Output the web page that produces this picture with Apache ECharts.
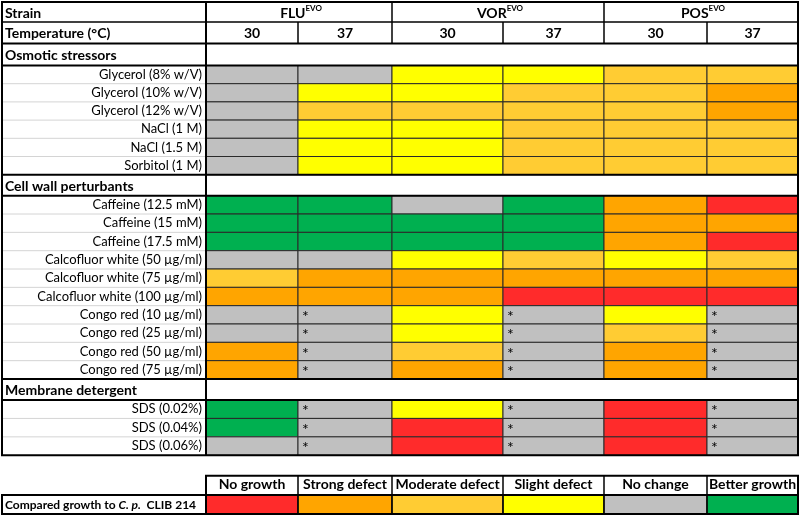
<!DOCTYPE html>
<html>
<head>
<meta charset="utf-8">
<script src="https://cdn.jsdelivr.net/npm/echarts@6/dist/echarts.min.js"></script>
<style>html,body{margin:0;padding:0;background:#fff}#main{width:800px;height:516px}</style>
</head>
<body>
<div id="main"></div>
<script>
// ---------- DATA ----------
const strains = ['FLU', 'VOR', 'POS'];
const strainSuffix = 'EVO';
const temperatures = ['30', '37', '30', '37', '30', '37'];
const growthCategories = ['No growth', 'Strong defect', 'Moderate defect', 'Slight defect', 'No change', 'Better growth'];
const growthColors = ['#FF2B2B', '#FFA500', '#FFCC33', '#FFFF00', '#C0C0C0', '#00B050'];
const sectionNames = ['Osmotic stressors', 'Cell wall perturbants', 'Membrane detergent'];

const osmoticLabels = ['Glycerol (8% w/V)', 'Glycerol (10% w/V)', 'Glycerol (12% w/V)', 'NaCl (1 M)', 'NaCl (1.5 M)', 'Sorbitol (1 M)'];
const osmoticValues = [
  [4, 4, 3, 3, 2, 2],
  [4, 3, 3, 2, 2, 1],
  [4, 2, 2, 2, 2, 1],
  [4, 3, 3, 2, 2, 2],
  [4, 3, 3, 2, 2, 2],
  [4, 3, 3, 2, 2, 2]
];
const osmoticStars = [];

const cellWallLabels = ['Caffeine (12.5 mM)', 'Caffeine (15 mM)', 'Caffeine (17.5 mM)', 'Calcofluor white (50 µg/ml)', 'Calcofluor white (75 µg/ml)', 'Calcofluor white (100 µg/ml)', 'Congo red (10 µg/ml)', 'Congo red (25 µg/ml)', 'Congo red (50 µg/ml)', 'Congo red (75 µg/ml)'];
const cellWallValues = [
  [5, 5, 4, 5, 1, 0],
  [5, 5, 5, 5, 1, 1],
  [5, 5, 5, 5, 1, 0],
  [4, 4, 3, 2, 3, 2],
  [2, 1, 1, 1, 1, 1],
  [1, 1, 1, 0, 0, 0],
  [4, 4, 3, 4, 3, 4],
  [4, 4, 3, 4, 2, 4],
  [1, 4, 2, 4, 1, 4],
  [1, 4, 1, 4, 1, 4]
];
const cellWallStars = [[6,1],[6,3],[6,5],[7,1],[7,3],[7,5],[8,1],[8,3],[8,5],[9,1],[9,3],[9,5]];

const membraneLabels = ['SDS (0.02%)', 'SDS (0.04%)', 'SDS (0.06%)'];
const membraneValues = [
  [5, 4, 3, 4, 0, 4],
  [5, 4, 0, 4, 0, 4],
  [4, 4, 0, 4, 0, 4]
];
const membraneStars = [[0,1],[0,3],[0,5],[1,1],[1,3],[1,5],[2,1],[2,3],[2,5]];

const legendCaption = ['Compared growth to ', 'C. p.', '  CLIB 214'];

// ---------- LAYOUT ----------
const L = {
  left: 2, right: 798, labelEdge: 206,
  colEdges: [206, 298, 392, 503, 604, 707, 798],
  strainTop: 2, tempTop: 22, headerBottom: 43.5,
  secHeadTop: [43.5, 174.7, 379],
  secTop: [65.5, 195.7, 400],
  secBottom: [174.7, 379, 455.3],
  legTop: 475.7, legMid: 495, legBottom: 514
};
const FONT = 'Lato, "Open Sans", sans-serif';

const sections = [
  { labels: osmoticLabels, values: osmoticValues, stars: osmoticStars },
  { labels: cellWallLabels, values: cellWallValues, stars: cellWallStars },
  { labels: membraneLabels, values: membraneValues, stars: membraneStars }
];

const grids = [], xAxes = [], yAxes = [], series = [];

function cellRender(params, api) {
  const c = api.coord([api.value(0), api.value(1)]);
  const s = api.size([1, 1]);
  const x = c[0] - s[0] / 2, y = c[1] - s[1] / 2;
  const children = [{
    type: 'rect',
    shape: { x: x, y: y, width: s[0], height: s[1] },
    style: { fill: growthColors[api.value(2)], stroke: '#2a2a2a', lineWidth: 1 }
  }];
  if (api.value(3)) {
    children.push({
      type: 'text',
      style: { x: x + 4, y: c[1] + 2, text: '*', fill: '#000', font: '16px ' + FONT, verticalAlign: 'middle', align: 'left' }
    });
  }
  return { type: 'group', children: children };
}

sections.forEach((sec, si) => {
  for (let c = 0; c < 6; c++) {
    const gi = grids.length;
    grids.push({ left: L.colEdges[c], top: L.secTop[si], width: L.colEdges[c + 1] - L.colEdges[c], height: L.secBottom[si] - L.secTop[si] });
    xAxes.push({ type: 'category', gridIndex: gi, data: [temperatures[c]], show: false });
    yAxes.push({
      type: 'category', gridIndex: gi, data: sec.labels, inverse: true,
      axisLine: { show: false }, axisTick: { show: false }, splitLine: { show: false },
      axisLabel: { show: c === 0, margin: 4, color: '#000', fontSize: 13, fontFamily: FONT, align: 'right' }
    });
    const data = sec.values.map((row, r) => [0, r, row[c], sec.stars.some(p => p[0] === r && p[1] === c) ? 1 : 0]);
    series.push({ type: 'custom', xAxisIndex: gi, yAxisIndex: gi, renderItem: cellRender, encode: { x: 0, y: 1 }, data: data, silent: true });
  }
});

// legend cells
for (let c = 0; c < 6; c++) {
  const gi = grids.length;
  grids.push({ left: L.colEdges[c], top: L.legMid, width: L.colEdges[c + 1] - L.colEdges[c], height: L.legBottom - L.legMid });
  xAxes.push({
    type: 'category', gridIndex: gi, data: [growthCategories[c]], position: 'top',
    axisLine: { show: false }, axisTick: { show: false },
    axisLabel: { margin: 4, color: '#000', fontSize: 14, fontWeight: 'bold', fontFamily: FONT }
  });
  yAxes.push({ type: 'category', gridIndex: gi, data: ['legend'], show: false });
  series.push({ type: 'custom', xAxisIndex: gi, yAxisIndex: gi, renderItem: cellRender, encode: { x: 0, y: 1 }, data: [[0, 0, c, 0]], silent: true });
}

// ---------- GRAPHIC (table lines & header texts) ----------
const g = [];
function hline(x1, x2, y, w, col) { g.push({ type: 'line', z: 100, shape: { x1, y1: y, x2, y2: y }, style: { stroke: col || '#000', lineWidth: w } }); }
function vline(x, y1, y2, w, col) { g.push({ type: 'line', z: 100, shape: { x1: x, y1, x2: x, y2 }, style: { stroke: col || '#000', lineWidth: w } }); }
function text(x, y, t, opts) {
  g.push(Object.assign({ type: 'text', z: 110, x: x, y: y, style: Object.assign({ text: t, fill: '#000', font: 'bold 14px ' + FONT, verticalAlign: 'middle', align: 'left' }, opts || {}) }));
}

// faint row lines in the label column
sections.forEach((sec, si) => {
  const n = sec.labels.length, h = (L.secBottom[si] - L.secTop[si]) / n;
  for (let r = 1; r < n; r++) hline(L.left, L.labelEdge, L.secTop[si] + r * h, 1, '#d4d4d4');
});

hline(L.left, L.right, L.tempTop, 1.5);
hline(L.left, L.right, L.headerBottom, 2);
L.secTop.forEach(y => hline(L.left, L.right, y, 2));
L.secHeadTop.slice(1).forEach(y => hline(L.left, L.right, y, 2));
vline(L.labelEdge, L.strainTop, L.secBottom[2], 2);
[2, 4].forEach(i => vline(L.colEdges[i], L.strainTop, L.headerBottom, 1.5));
[1, 3, 5].forEach(i => vline(L.colEdges[i], L.tempTop, L.headerBottom, 1.5));
g.push({ type: 'rect', z: 100, shape: { x: L.left, y: L.strainTop, width: L.right - L.left, height: L.secBottom[2] - L.strainTop }, style: { fill: 'none', stroke: '#000', lineWidth: 2 } });

// legend lines
g.push({ type: 'rect', z: 100, shape: { x: L.labelEdge, y: L.legTop, width: L.right - L.labelEdge, height: L.legBottom - L.legTop }, style: { fill: 'none', stroke: '#000', lineWidth: 2 } });
g.push({ type: 'rect', z: 100, shape: { x: L.left, y: L.legMid, width: L.labelEdge - L.left, height: L.legBottom - L.legMid }, style: { fill: 'none', stroke: '#000', lineWidth: 2 } });
hline(L.labelEdge, L.right, L.legMid, 2);
L.colEdges.slice(1, 6).forEach(x => vline(x, L.legTop, L.legBottom, 1.5));

// header texts
text(L.left + 3, (L.strainTop + L.tempTop) / 2 + 1, 'Strain');
text(L.left + 3, (L.tempTop + L.headerBottom) / 2 + 1, 'Temperature (°C)');
strains.forEach((s, i) => {
  const cx = (L.colEdges[i * 2] + L.colEdges[i * 2 + 2]) / 2 + 2;
  g.push({ type: 'text', z: 110, x: cx, y: (L.strainTop + L.tempTop) / 2 + 1, style: {
    text: '{a|' + s + '}{s|' + strainSuffix + '}', align: 'center', verticalAlign: 'middle',
    rich: { a: { font: 'bold 14px ' + FONT, fill: '#000', lineHeight: 16 }, s: { font: 'bold 8px ' + FONT, fill: '#000', lineHeight: 16, padding: [0, 0, 10, 0] } }
  } });
});
temperatures.forEach((t, i) => {
  text((L.colEdges[i] + L.colEdges[i + 1]) / 2, (L.tempTop + L.headerBottom) / 2 + 1, t, { align: 'center' });
});
sectionNames.forEach((n, i) => text(L.left + 3, (L.secHeadTop[i] + L.secTop[i]) / 2 + 1, n));
g.push({ type: 'text', z: 110, x: L.left + 3, y: (L.legMid + L.legBottom) / 2 + 1, style: {
  text: '{a|' + legendCaption[0] + '}{i|' + legendCaption[1] + '}{a|' + legendCaption[2] + '}', verticalAlign: 'middle',
  rich: { a: { font: 'bold 12px ' + FONT, fill: '#000' }, i: { font: 'italic bold 12px ' + FONT, fill: '#000' } }
} });

const chart = echarts.init(document.getElementById('main'), null, { renderer: 'canvas' });
chart.setOption({
  backgroundColor: '#fff',
  animation: false,
  grid: grids, xAxis: xAxes, yAxis: yAxes, series: series,
  graphic: g
});
</script>
</body>
</html>
